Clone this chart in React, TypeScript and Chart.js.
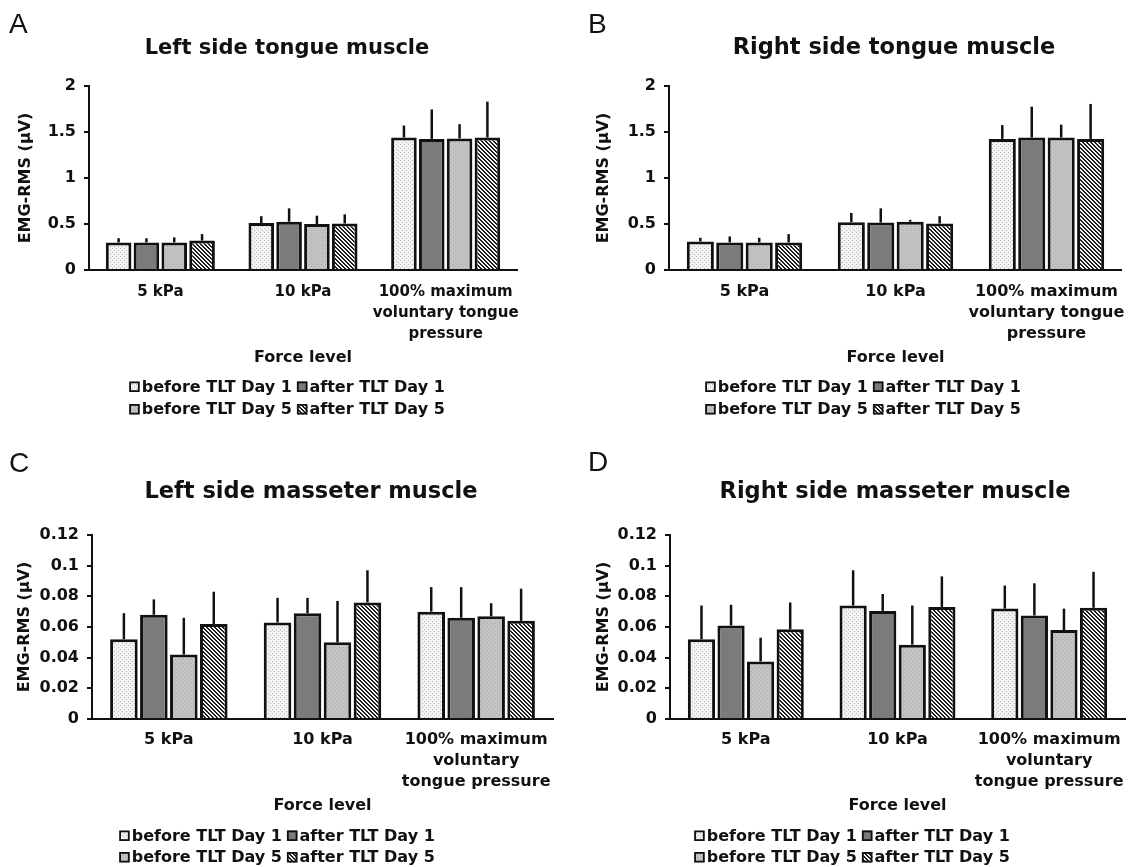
import React, { useEffect, useRef } from "react";
import { Chart, registerables } from "chart.js";

Chart.register(...registerables);

const FONT = "'DejaVu Sans', 'Liberation Sans', Arial, sans-serif";
const INK = "#111111";

// ---------------- data ----------------
const seriesLabels = ["before TLT Day 1", "after TLT Day 1", "before TLT Day 5", "after TLT Day 5"];
const tongueCategories = [["5 kPa"], ["10 kPa"], ["100% maximum", "voluntary tongue", "pressure"]];
const masseterCategories = [["5 kPa"], ["10 kPa"], ["100% maximum", "voluntary", "tongue pressure"]];
const xAxisTitle = "Force level";
const yAxisTitle = "EMG-RMS (μV)";

const tongueTicks = [0, 0.5, 1, 1.5, 2];
const tongueTickLabels = ["0", "0.5", "1", "1.5", "2"];
const masseterTicks = [0, 0.02, 0.04, 0.06, 0.08, 0.1, 0.12];
const masseterTickLabels = ["0", "0.02", "0.04", "0.06", "0.08", "0.1", "0.12"];

// rows = series (before D1, after D1, before D5, after D5); columns = force levels
const leftTongueMeans = [
  [0.30, 0.51, 1.44],
  [0.30, 0.525, 1.425],
  [0.30, 0.50, 1.43],
  [0.32, 0.505, 1.44],
];
const leftTongueErrors = [
  [0.045, 0.075, 0.13],
  [0.045, 0.145, 0.32],
  [0.055, 0.09, 0.155],
  [0.07, 0.10, 0.39],
];
const rightTongueMeans = [
  [0.31, 0.52, 1.425],
  [0.30, 0.515, 1.44],
  [0.30, 0.525, 1.44],
  [0.30, 0.505, 1.425],
];
const rightTongueErrors = [
  [0.04, 0.10, 0.15],
  [0.065, 0.155, 0.335],
  [0.05, 0.02, 0.14],
  [0.09, 0.08, 0.38],
];
const leftMasseterMeans = [
  [0.052, 0.063, 0.070],
  [0.068, 0.069, 0.066],
  [0.042, 0.050, 0.067],
  [0.062, 0.076, 0.064],
];
const leftMasseterErrors = [
  [0.017, 0.016, 0.016],
  [0.010, 0.010, 0.020],
  [0.024, 0.027, 0.0085],
  [0.021, 0.021, 0.021],
];
const rightMasseterMeans = [
  [0.052, 0.074, 0.072],
  [0.061, 0.0705, 0.0675],
  [0.0375, 0.0485, 0.058],
  [0.0585, 0.073, 0.0725],
];
const rightMasseterErrors = [
  [0.022, 0.023, 0.015],
  [0.0135, 0.011, 0.021],
  [0.0155, 0.0255, 0.014],
  [0.0175, 0.020, 0.0235],
];

// ---------------- layout (page pixels) ----------------
const panels = [
  {
    letter: "A", title: "Left side tongue muscle", categories: tongueCategories,
    ticks: tongueTicks, tickLabels: tongueTickLabels, means: leftTongueMeans, errors: leftTongueErrors,
    box: { x: 0, y: 0, w: 568, h: 433 },
    plot: { l: 89, r: 517, t: 86, b: 270 },
    titleCx: 287, titleBase: 53.5, titleSize: 21, letterX: 9, letterBase: 33,
    catSize: 15, yTitleX: 26,
    legendCx: 287, legendBase: [391.5, 414], forceY: 358, catLine1: 292,
  },
  {
    letter: "B", title: "Right side tongue muscle", categories: tongueCategories,
    ticks: tongueTicks, tickLabels: tongueTickLabels, means: rightTongueMeans, errors: rightTongueErrors,
    box: { x: 568, y: 0, w: 569, h: 433 },
    plot: { l: 669, r: 1130, t: 86, b: 270 },
    titleCx: 894, titleBase: 53.5, titleSize: 22.5, letterX: 588, letterBase: 33,
    catSize: 16, yTitleX: 604,
    legendCx: 863, legendBase: [391.5, 414], forceY: 358, catLine1: 292,
  },
  {
    letter: "C", title: "Left side masseter muscle", categories: masseterCategories,
    ticks: masseterTicks, tickLabels: masseterTickLabels, means: leftMasseterMeans, errors: leftMasseterErrors,
    box: { x: 0, y: 433, w: 568, h: 434 },
    plot: { l: 92, r: 553, t: 535, b: 719 },
    titleCx: 311, titleBase: 498, titleSize: 22.5, letterX: 9, letterBase: 472,
    catSize: 16, yTitleX: 25,
    legendCx: 277, legendBase: [840.5, 862], forceY: 806, catLine1: 740,
  },
  {
    letter: "D", title: "Right side masseter muscle", categories: masseterCategories,
    ticks: masseterTicks, tickLabels: masseterTickLabels, means: rightMasseterMeans, errors: rightMasseterErrors,
    box: { x: 568, y: 433, w: 569, h: 434 },
    plot: { l: 670, r: 1125, t: 535, b: 719 },
    titleCx: 895, titleBase: 498, titleSize: 22.5, letterX: 588, letterBase: 471,
    catSize: 16, yTitleX: 604,
    legendCx: 852, legendBase: [840.5, 862], forceY: 806, catLine1: 740,
  },
];

// ---------------- fills ----------------
function makeTile(ctx: CanvasRenderingContext2D, size: number, base: string, dots: number[][], dotColor: string) {
  const c = document.createElement("canvas");
  c.width = size;
  c.height = size;
  const t = c.getContext("2d")!;
  t.fillStyle = base;
  t.fillRect(0, 0, size, size);
  t.fillStyle = dotColor;
  dots.forEach(([x, y]) => t.fillRect(x, y, 1, 1));
  return ctx.createPattern(c, "repeat")!;
}

function makeFills(ctx: CanvasRenderingContext2D) {
  const dotted = makeTile(ctx, 4, "#f2f2f2", [[0, 0], [2, 2]], "#b8b8b8");
  const light = makeTile(ctx, 4, "#c4c4c4", [[1, 0], [3, 2]], "#a6a6a6");
  const hatchPts: number[][] = [];
  for (let i = 0; i < 4; i++) {
    hatchPts.push([i, i]);
    hatchPts.push([(i + 1) % 4, i]);
  }
  const hatch = makeTile(ctx, 4, "#f4f4f4", hatchPts, "#1e1e1e");
  return [dotted, "#7b7b7b", light, hatch];
}

const errorBarPlugin = {
  id: "errorBars",
  afterDatasetsDraw(chart: any) {
    const { ctx } = chart;
    const yScale = chart.scales.y;
    ctx.save();
    ctx.strokeStyle = INK;
    ctx.lineWidth = 2.5;
    chart.data.datasets.forEach((ds: any, i: number) => {
      const meta = chart.getDatasetMeta(i);
      meta.data.forEach((bar: any, j: number) => {
        const top = yScale.getPixelForValue(ds.data[j] + ds.errors[j]);
        ctx.beginPath();
        ctx.moveTo(bar.x, bar.y);
        ctx.lineTo(bar.x, top);
        ctx.stroke();
      });
    });
    ctx.restore();
  },
};

function decorPlugin(cfg: any, fills: any[]) {
  return {
    id: "decor",
    afterDraw(chart: any) {
      const ctx: CanvasRenderingContext2D = chart.ctx;
      const ox = cfg.box.x;
      const oy = cfg.box.y;
      ctx.save();
      ctx.fillStyle = INK;
      ctx.textBaseline = "alphabetic";
      ctx.textAlign = "left";
      ctx.font = "28px 'Liberation Sans', Arial, sans-serif";
      ctx.fillText(cfg.letter, cfg.letterX - ox, cfg.letterBase - oy);
      ctx.font = `bold ${cfg.titleSize}px ${FONT}`;
      ctx.textAlign = "center";
      ctx.fillText(cfg.title, cfg.titleCx - ox, cfg.titleBase - oy);

      ctx.font = `bold 16px ${FONT}`;
      ctx.textAlign = "left";
      const bs = 10.5;
      const gapText = 2;
      const gapItem = 5;
      const w = seriesLabels.map((s) => ctx.measureText(s).width);
      const col1W = bs + gapText + Math.max(w[0], w[2]) + gapItem;
      const total = col1W + bs + gapText + Math.max(w[1], w[3]);
      const x0 = cfg.legendCx - ox - total / 2;
      seriesLabels.forEach((s, i) => {
        const row = Math.floor(i / 2);
        const col = i % 2;
        const x = x0 + col * col1W;
        const base = cfg.legendBase[row] - oy;
        ctx.fillStyle = fills[i];
        ctx.fillRect(x, base - 10, bs, bs);
        ctx.strokeStyle = INK;
        ctx.lineWidth = 1.8;
        ctx.strokeRect(x + 0.9, base - 10 + 0.9, bs - 1.8, bs - 1.8);
        ctx.fillStyle = INK;
        ctx.fillText(s, x + bs + gapText, base);
      });
      ctx.restore();
    },
  };
}

function Panel({ cfg }: { cfg: any }) {
  const ref = useRef<HTMLCanvasElement>(null);
  useEffect(() => {
    const canvas = ref.current!;
    const ctx = canvas.getContext("2d")!;
    const fills = makeFills(ctx);
    const { box, plot } = cfg;
    const L = plot.l - box.x;
    const R = plot.r - box.x;
    const T = plot.t - box.y;
    const B = plot.b - box.y;
    const forceY = cfg.forceY - box.y;
    const lh = 16 * 1.2;
    const padBottom = box.h - forceY - lh / 2;
    const xHeight = box.h - padBottom - B;
    const yTitleCenter = cfg.yTitleX - box.x;
    const catLH = 21;
    const catPad = cfg.catLine1 - plot.b - catLH / 2;
    const tickFont = { family: FONT, size: 16, weight: "bold" as const };

    const chart = new Chart(ctx, {
      type: "bar",
      data: {
        labels: cfg.categories,
        datasets: seriesLabels.map((label, i) => ({
          label,
          data: cfg.means[i],
          errors: cfg.errors[i],
          backgroundColor: fills[i],
          borderColor: INK,
          borderWidth: 3,
          categoryPercentage: 0.78,
          barPercentage: 0.92,
        })) as any,
      },
      options: {
        responsive: false,
        animation: false,
        layout: { padding: { left: 0, top: T, right: box.w - R, bottom: padBottom } },
        plugins: {
          legend: { display: false },
          title: { display: false },
          tooltip: { enabled: false },
        },
        scales: {
          x: {
            z: 1,
            grid: { display: false, drawTicks: false },
            border: { display: true, color: INK, width: 2 },
            ticks: {
              color: INK,
              font: { family: FONT, size: cfg.catSize, weight: "bold", lineHeight: catLH / cfg.catSize },
              padding: catPad,
              maxRotation: 0,
              minRotation: 0,
              autoSkip: false,
            },
            title: {
              display: true,
              text: xAxisTitle,
              color: INK,
              font: tickFont,
              padding: { top: 0, bottom: 0 },
            },
            afterFit: (s: any) => {
              s.height = xHeight;
            },
          },
          y: {
            z: 1,
            min: 0,
            max: cfg.ticks[cfg.ticks.length - 1],
            afterBuildTicks: (s: any) => {
              s.ticks = cfg.ticks.map((v: number) => ({ value: v }));
            },
            grid: {
              display: true,
              drawOnChartArea: false,
              drawTicks: true,
              tickLength: 5,
              color: INK,
              lineWidth: 2,
            },
            border: { display: true, color: INK, width: 2 },
            ticks: {
              color: INK,
              font: tickFont,
              padding: 8,
              callback: (_v: any, i: number) => cfg.tickLabels[i],
            },
            title: {
              display: true,
              text: yAxisTitle,
              color: INK,
              font: tickFont,
              padding: { top: yTitleCenter - lh / 2, bottom: 0 },
            },
            afterFit: (s: any) => {
              s.width = L;
            },
          },
        },
      } as any,
      plugins: [errorBarPlugin, decorPlugin(cfg, fills)],
    });
    return () => chart.destroy();
  }, [cfg]);

  return (
    <canvas
      ref={ref}
      width={cfg.box.w}
      height={cfg.box.h}
      style={{
        position: "absolute",
        left: cfg.box.x,
        top: cfg.box.y,
        width: cfg.box.w,
        height: cfg.box.h,
      }}
    />
  );
}

export default function App() {
  return (
    <div
      style={{
        position: "absolute",
        left: 0,
        top: 0,
        width: 1137,
        height: 867,
        background: "#ffffff",
        overflow: "hidden",
      }}
    >
      {panels.map((p) => (
        <Panel key={p.letter} cfg={p} />
      ))}
    </div>
  );
}
